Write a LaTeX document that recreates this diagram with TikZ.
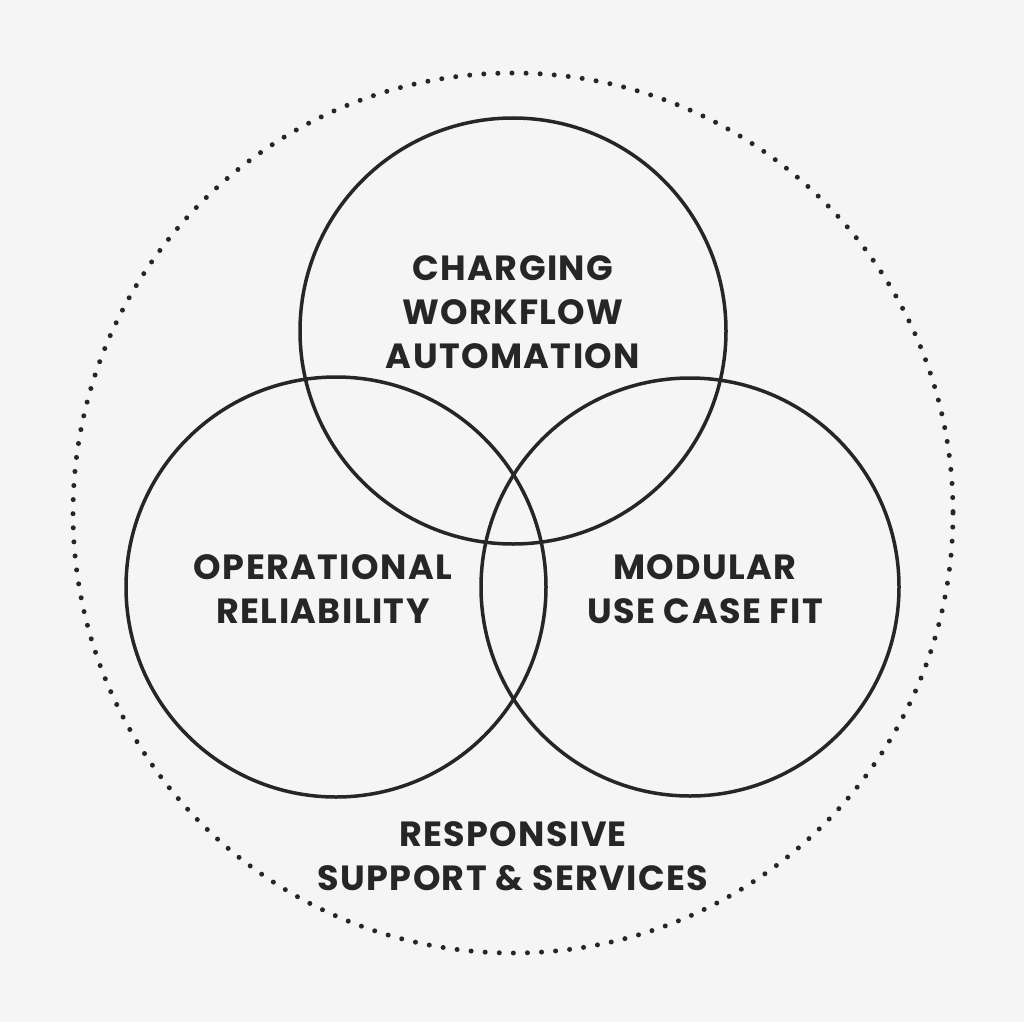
\documentclass[tikz,border=0pt]{standalone}
\usepackage{fontspec}
\setmainfont{Poppins}[LetterSpace=4]
\begin{document}
\begin{tikzpicture}[x=1pt,y=-1pt,
  venn/.style={draw=black!85,line width=3.5pt},
  lbl/.style={font=\fontsize{35}{44}\selectfont\bfseries,text=black!85,align=center,inner sep=0pt}]
\fill[black!4] (0,0) rectangle (1024,1022);
\useasboundingbox (0,0) rectangle (1024,1022);
\draw[black!85,line width=5pt,line cap=round,dash pattern=on 0pt off 14.1pt] (513,513) circle (440);
\draw[venn] (513,331) circle (213);
\draw[venn] (336,587) circle (210);
\draw[venn] (690,587) circle (209);
\node[lbl] (top) at (513,312) {CHARGING\\WORKFLOW\\AUTOMATION};
\node[lbl] (left) at (323,589) {OPERATIONAL\\RELIABILITY};
\node[lbl] (right) at (705,589) {MODULAR\\USE CASE FIT};
\node[lbl] (bottom) at (513,856) {RESPONSIVE\\SUPPORT \& SERVICES};
\end{tikzpicture}
\end{document}
